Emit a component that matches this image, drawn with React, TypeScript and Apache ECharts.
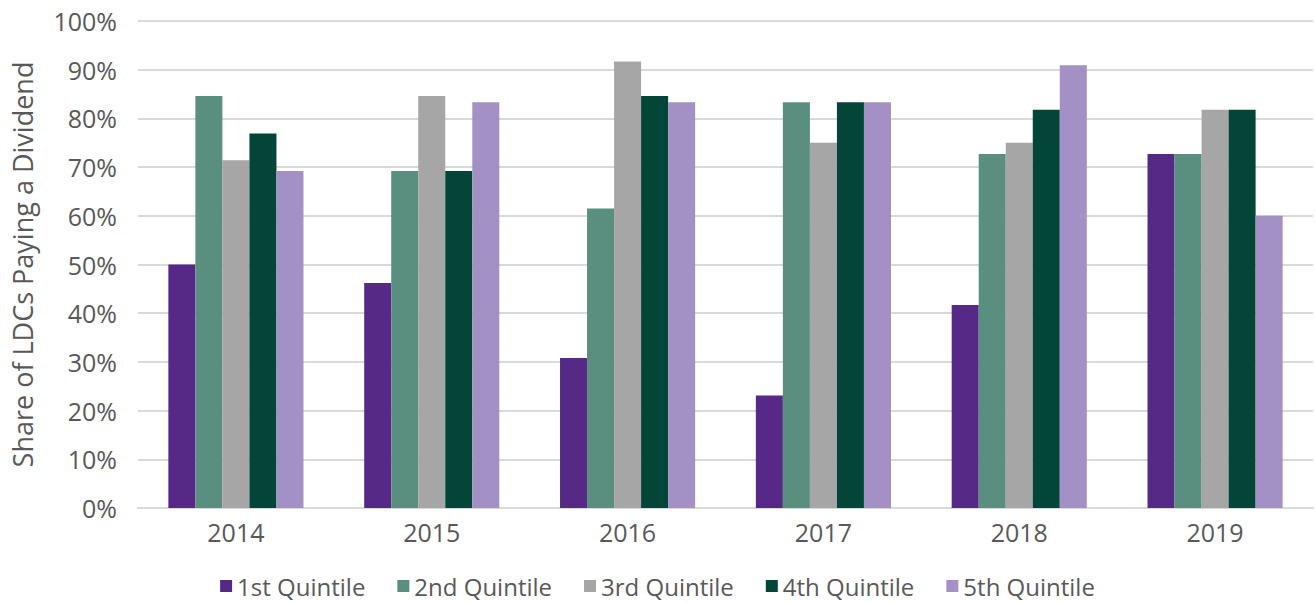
import React, { useEffect, useRef } from "react";
import * as echarts from "echarts";

const years = ["2014", "2015", "2016", "2017", "2018", "2019"];
const seriesNames = ["1st Quintile", "2nd Quintile", "3rd Quintile", "4th Quintile", "5th Quintile"];
const q1 = [50.0, 46.2, 30.8, 23.1, 41.7, 72.7];
const q2 = [84.6, 69.2, 61.5, 83.3, 72.7, 72.7];
const q3 = [71.4, 84.6, 91.7, 75.0, 75.0, 81.8];
const q4 = [76.9, 69.2, 84.6, 83.3, 81.8, 81.8];
const q5 = [69.2, 83.3, 83.3, 83.3, 90.9, 60.0];
const colors = ["#572987", "#5A8F80", "#A6A6A6", "#034638", "#A391C5"];

const FONT = "'Open Sans', 'Noto Sans', sans-serif";
const TEXT = "#595959";

export default function App() {
  const ref = useRef<HTMLDivElement>(null);
  useEffect(() => {
    document.body.style.margin = "0";
    const chart = echarts.init(ref.current!, null, { renderer: "svg" });
    const data = [q1, q2, q3, q4, q5];
    chart.setOption({
      animation: false,
      backgroundColor: "#ffffff",
      textStyle: { fontFamily: FONT },
      grid: { left: 138, right: 2, top: 21, bottom: 94, containLabel: false },
      legend: {
        data: seriesNames,
        top: 569,
        left: "center",
        itemWidth: 12,
        itemHeight: 12,
        itemGap: 32,
        icon: "rect",
        textStyle: { fontSize: 24, color: TEXT, fontFamily: FONT },
      },
      xAxis: {
        type: "category",
        data: years,
        axisTick: { show: false },
        axisLine: { lineStyle: { color: "#D9D9D9", width: 2 } },
        axisLabel: { fontSize: 25, color: TEXT, margin: 11, fontFamily: FONT },
      },
      yAxis: {
        type: "value",
        min: 0,
        max: 100,
        interval: 10,
        name: "Share of LDCs Paying a Dividend",
        nameLocation: "middle",
        nameGap: 102,
        nameTextStyle: { fontSize: 27, color: TEXT, fontFamily: FONT },
        axisLabel: { fontSize: 25, color: TEXT, margin: 21, formatter: "{value}%", fontFamily: FONT },
        splitLine: { lineStyle: { color: "#D9D9D9", width: 2 } },
        axisLine: { show: false },
        axisTick: { show: false },
      },
      series: seriesNames.map((n, i) => ({
        name: n,
        type: "bar",
        data: data[i],
        barGap: "0%",
        barCategoryGap: "31%",
        itemStyle: { color: colors[i] },
      })),
    });
    return () => chart.dispose();
  }, []);
  return <div ref={ref} style={{ width: 1315, height: 602 }} />;
}
